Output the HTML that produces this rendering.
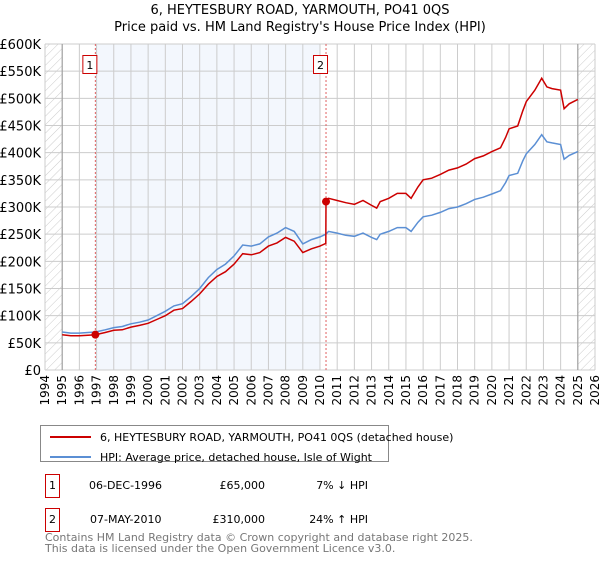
<!DOCTYPE html>
<html><head><meta charset="utf-8"><style>
body{margin:0;background:#fff;font-family:"Liberation Sans","DejaVu Sans",sans-serif}
#c{position:relative;width:600px;height:560px}
</style></head><body>
<div id="c">
<svg width="600" height="560" id="svg" font-family="DejaVu Sans, Liberation Sans, sans-serif">
<defs><pattern id="hatch" width="6" height="6" patternUnits="userSpaceOnUse" patternTransform="rotate(45)"><line x1="0" y1="0" x2="0" y2="6" stroke="#ccc" stroke-width="1"/></pattern></defs>
<text x="300" y="14" text-anchor="middle" font-size="13">6, HEYTESBURY ROAD, YARMOUTH, PO41 0QS</text>
<text x="300" y="31" text-anchor="middle" font-size="13">Price paid vs. HM Land Registry's House Price Index (HPI)</text>
<g id="plot"></g>
<g>
<rect x="40.5" y="425.5" width="348" height="36" fill="#fff" stroke="#888"/>
<line x1="50" y1="437" x2="91" y2="437" stroke="#cc0000" stroke-width="2"/>
<text x="100" y="441" font-size="11">6, HEYTESBURY ROAD, YARMOUTH, PO41 0QS (detached house)</text>
<line x1="50" y1="457" x2="91" y2="457" stroke="#5b8fd4" stroke-width="2"/>
<text x="100" y="461" font-size="11">HPI: Average price, detached house, Isle of Wight</text>
</g>
<g font-size="11">
<rect x="45.5" y="474.5" width="14" height="23" fill="none" stroke="#cc0000"/><text x="52.5" y="489" text-anchor="middle">1</text>
<text x="89" y="489">06-DEC-1996</text><text x="265" y="489" text-anchor="end">£65,000</text><text x="368" y="489" text-anchor="end">7% ↓ HPI</text>
<rect x="45.5" y="508.5" width="14" height="23" fill="none" stroke="#cc0000"/><text x="52.5" y="523" text-anchor="middle">2</text>
<text x="90" y="523">07-MAY-2010</text><text x="265" y="523" text-anchor="end">£310,000</text><text x="368" y="523" text-anchor="end">24% ↑ HPI</text>
</g>
<text x="45" y="541" font-size="11" fill="#777">Contains HM Land Registry data © Crown copyright and database right 2025.</text>
<text x="45" y="552" font-size="11" fill="#777">This data is licensed under the Open Government Licence v3.0.</text>
</svg></div>
<script>
const hpiYears=[1995,1995.5,1996,1996.5,1996.93,1997.5,1998,1998.5,1999,1999.5,2000,2000.5,2001,2001.5,2002,2002.5,2003,2003.5,2004,2004.5,2005,2005.5,2006,2006.5,2007,2007.5,2008,2008.5,2009,2009.5,2010,2010.34,2010.5,2011,2011.5,2012,2012.5,2013,2013.3,2013.5,2014,2014.5,2015,2015.3,2015.7,2016,2016.5,2017,2017.5,2018,2018.5,2019,2019.5,2020,2020.5,2020.8,2021,2021.5,2021.8,2022,2022.5,2022.9,2023.2,2023.5,2024,2024.2,2024.5,2025];
const hpiValues=[70,68,68,69,70,74,78,80,85,88,92,100,108,118,122,135,150,170,185,195,210,230,228,232,245,252,262,255,232,240,245,250,255,252,248,246,252,244,240,250,255,262,262,255,272,282,285,290,297,300,306,314,318,324,330,345,358,362,385,398,415,433,420,418,415,388,395,402];
const redYears=[1995,1995.5,1996,1996.5,1996.93,1997.5,1998,1998.5,1999,1999.5,2000,2000.5,2001,2001.5,2002,2002.5,2003,2003.5,2004,2004.5,2005,2005.5,2006,2006.5,2007,2007.5,2008,2008.5,2009,2009.5,2010,2010.34,2010.35,2010.5,2011,2011.5,2012,2012.5,2013,2013.3,2013.5,2014,2014.5,2015,2015.3,2015.7,2016,2016.5,2017,2017.5,2018,2018.5,2019,2019.5,2020,2020.5,2020.8,2021,2021.5,2021.8,2022,2022.5,2022.9,2023.2,2023.5,2024,2024.2,2024.5,2025];
const redValues=[65,63,63,64,65,69,73,74,79,82,86,93,100,110,113,126,140,158,172,181,195,214,212,216,228,234,244,237,216,223,228,233,310,316,312,308,305,312,303,298,310,316,325,325,316,337,350,353,360,368,372,379,389,394,402,409,428,444,449,477,494,515,537,521,518,515,481,490,498];
const yTicks=[0,50,100,150,200,250,300,350,400,450,500,550,600];
const yTickLabels=["£0","£50K","£100K","£150K","£200K","£250K","£300K","£350K","£400K","£450K","£500K","£550K","£600K"];
const saleYears=[1996.93,2010.35];
const saleValues=[65,310];
const saleLabels=["1","2"];
const L=45,R=595,T=44,B=370,Y0=1994,Y1=2026;
const xs=y=>L+(y-Y0)*(R-L)/(Y1-Y0);
const ys=v=>B-v*(B-T)/600;
const NS="http://www.w3.org/2000/svg";
const g=document.getElementById('plot');
function mk(t,a){const e=document.createElementNS(NS,t);for(const k in a)e.setAttribute(k,a[k]);g.appendChild(e);return e;}
let e;
e=mk('rect',{x:xs(saleYears[0]),y:T,width:xs(2010)-xs(saleYears[0]),height:B-T,fill:'#eef3fc',opacity:0.7});


e=mk('rect',{x:L,y:T,width:xs(1995)-L,height:B-T,fill:'url(#hatch)'});


e=mk('rect',{x:xs(2025),y:T,width:R-xs(2025),height:B-T,fill:'url(#hatch)'});


for(let y=Y0;y<=Y1;y++){
 e=mk('line',{x1:xs(y),x2:xs(y),y1:T,y2:B,stroke:'#ccc','stroke-width':1});
 
 
 e=mk('text',{x:0,y:0,'font-size':12,'text-anchor':'end',transform:`translate(${xs(y)+4},375) rotate(-90)`});
 e.textContent=y;
 
 
}
yTicks.forEach((v,i)=>{
 e=mk('line',{x1:L,x2:R,y1:ys(v),y2:ys(v),stroke:'#ccc','stroke-width':1});
 
 
 e=mk('text',{x:41,y:ys(v)+5,'font-size':13,'text-anchor':'end'});
 e.textContent=yTickLabels[i];
 
 
});
e=mk('line',{x1:xs(1995),x2:xs(1995),y1:T,y2:B,stroke:'#999','stroke-width':1});


e=mk('line',{x1:xs(2025),x2:xs(2025),y1:T,y2:B,stroke:'#999','stroke-width':1});


saleYears.forEach((yr,i)=>{
 e=mk('line',{x1:xs(yr),x2:xs(yr),y1:T,y2:B,stroke:'#e06060','stroke-width':1,'stroke-dasharray':'2,2'});
 
 
 e=mk('rect',{x:xs(yr)-12.5,y:55.5,width:14,height:18,fill:'#fff',stroke:'#cc0000'});
 
 
 e=mk('text',{x:xs(yr)-5.5,y:69,'font-size':11,'text-anchor':'middle'});
 e.textContent=saleLabels[i];
 
 
});
e=mk('path',{d:hpiYears.map((y,i)=>(i?'L':'M')+xs(y).toFixed(1)+','+ys(hpiValues[i]).toFixed(1)).join(''),fill:'none',stroke:'#5b8fd4','stroke-width':1.5});


e=mk('path',{d:redYears.map((y,i)=>(i?'L':'M')+xs(y).toFixed(1)+','+ys(redValues[i]).toFixed(1)).join(''),fill:'none',stroke:'#cc0000','stroke-width':1.5});


saleYears.forEach((yr,i)=>{
 e=mk('circle',{cx:xs(yr),cy:ys(saleValues[i]),r:4,fill:'#cc0000'});
 
 
});
</script>
</body></html>
